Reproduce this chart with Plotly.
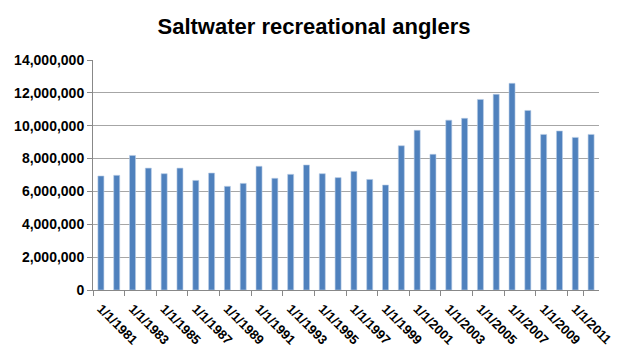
import plotly.graph_objects as go

years = list(range(1981, 2013))
dates = [f"1/1/{y}" for y in years]
anglers = [6.94, 6.98, 8.19, 7.42, 7.08, 7.42, 6.67, 7.12, 6.31, 6.49,
           7.53, 6.80, 7.04, 7.61, 7.08, 6.84, 7.22, 6.73, 6.39, 8.78,
           9.72, 8.26, 10.34, 10.45, 11.60, 11.91, 12.58, 10.93, 9.47, 9.68,
           9.29, 9.47]
anglers = [v * 1e6 for v in anglers]
y_ticks = list(range(0, 14000001, 2000000))
y_labels = [f"{v:,}" for v in y_ticks]

# the page body has an 8px margin, so the figure is 636x350 and shifted
W, H = 636, 350

fig = go.Figure(go.Bar(
    x=dates, y=anglers,
    marker=dict(color="#4F81BD", line=dict(color="#B9CDE5", width=0.6)),
))

fig.update_layout(
    width=W, height=H,
    margin=dict(l=85, r=45, t=52, b=68),
    paper_bgcolor="white", plot_bgcolor="white",
    bargap=0.62,
    showlegend=False,
    title=dict(text="<b>Saltwater recreational anglers</b>",
               x=306 / W, xref="container", xanchor="center",
               y=1 - 18 / H, yref="container", yanchor="middle",
               font=dict(family="Liberation Sans, Arial", size=22, color="black")),
    font=dict(family="Liberation Sans, Arial", color="black"),
)

fig.update_xaxes(
    type="category",
    tickmode="array",
    tickvals=dates[::2],
    ticktext=[f"<b>{d}</b>" for d in dates[::2]],
    tickangle=45,
    tickson="boundaries",
    ticks="outside", ticklen=5, tickcolor="#888888",
    ticklabelstandoff=5,
    showline=True, linecolor="#888888", linewidth=1,
    showgrid=False,
    automargin=False,
    tickfont=dict(size=13, color="black"),
)
fig.update_yaxes(
    range=[0, 14000000],
    tickmode="array",
    tickvals=y_ticks,
    ticktext=[f"<b>{t}</b>" for t in y_labels],
    ticks="outside", ticklen=5, tickcolor="#888888",
    showline=True, linecolor="#888888", linewidth=1,
    showgrid=True, gridcolor="#A6A6A6", gridwidth=1,
    zeroline=False,
    automargin=False,
    tickfont=dict(size=14, color="black"),
)

fig.write_html("out.html")
